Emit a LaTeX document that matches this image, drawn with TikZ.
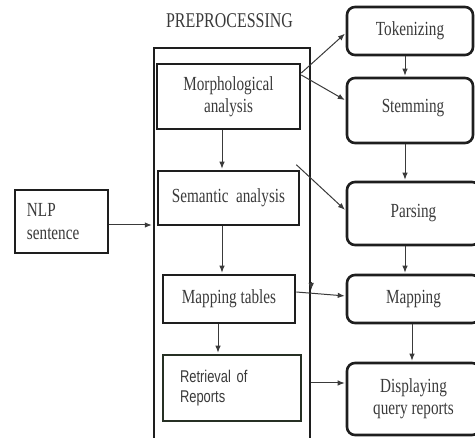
\documentclass[tikz,border=0pt]{standalone}
\usepackage{fontspec}
\setmainfont{Liberation Serif}[FakeStretch=0.76]
\newfontfamily\rsans{Liberation Sans}[FakeStretch=0.76]
\usetikzlibrary{arrows.meta,calc}
\definecolor{ink}{HTML}{1E1E1E}
\definecolor{txt}{HTML}{3A3A3A}
\definecolor{rbord}{HTML}{263024}
\tikzset{
 box/.style={draw=ink,line width=2.6pt,inner sep=0pt,align=center,text=txt,font=\fontsize{20}{22}\selectfont},
 rbox/.style={box,rounded corners=8pt},
 arr/.style={draw=txt,line width=1pt,-{Latex[length=7pt,width=5.5pt]},shorten >=1pt},
}
\begin{document}
\begin{tikzpicture}[x=1pt,y=-1pt]
\useasboundingbox (0,0) rectangle (475,438);
% outer preprocessing frame
\node[draw=ink,line width=2.4pt,minimum width=156pt,minimum height=422pt,inner sep=0pt] (pre) at (232,259) {};
\node[text=txt,font=\fontsize{21}{22}\selectfont] (title) at (229.5,21) {PREPROCESSING};
% left column
\node[box,minimum width=143pt,minimum height=65pt] (morph) at (228.5,96.5) {Morphological\\analysis};
\node[box,minimum width=141pt,minimum height=54pt] (sem) at (228.5,198) {\raisebox{4pt}{Semantic~~analysis}};
\node[box,minimum width=132pt,minimum height=48pt] (mtab) at (229,299) {Mapping tables};
\node[box,draw=rbord,minimum width=138pt,minimum height=66pt,inner xsep=17pt,text width=104pt,align=left,font=\rsans\fontsize{17}{20}\selectfont] (retr) at (232,388) {Retrieval of\\Reports};
\node[box,minimum width=93pt,minimum height=63pt,inner xsep=12pt,text width=69pt,align=left,font=\fontsize{20}{23}\selectfont] (nlp) at (61.5,221.5) {NLP\\sentence};
% right column
\node[rbox,minimum width=126pt,minimum height=48pt] (tok) at (410,31) {Tokenizing};
\node[rbox,minimum width=126pt,minimum height=65pt] (stem) at (410,110.5) {\raisebox{10pt}{\hspace*{6pt}Stemming}};
\node[rbox,minimum width=133pt,minimum height=63pt] (parse) at (413.5,213.5) {\raisebox{5pt}{Parsing}};
\node[rbox,minimum width=133pt,minimum height=48pt] (map) at (413.5,299) {Mapping};
\node[rbox,minimum width=133pt,minimum height=72pt] (disp) at (413.5,399) {Displaying\\query reports};
% connectors
\draw[arr] ([yshift=23.5pt]morph.east) -- ([yshift=-2pt]tok.west);
\draw[arr] ([yshift=21.5pt]morph.east) -- ([yshift=10pt]stem.west);
\draw[arr] ([xshift=-5pt]tok.south) -- ([xshift=-5pt]tok.south |- stem.north);
\draw[arr] ([xshift=-5pt]stem.south) -- ([xshift=-5pt]stem.south |- parse.north);
\draw[arr] ([shift={(-4pt,5pt)}]sem.north east) -- ([yshift=3pt]parse.west);
\draw[arr] ([xshift=-8.5pt]parse.south) -- ([xshift=-8.5pt]parse.south |- map.north);
\draw[arr] ([xshift=-1.5pt]map.south) -- ([xshift=-1.5pt]map.south |- disp.north);
\draw[arr] ([yshift=7pt]mtab.east) -- ([yshift=3pt]map.west);
\coordinate (dw) at ([yshift=16pt]disp.west);
\draw[arr] (dw -| pre.east) -- (dw);
\coordinate (nl) at ([yshift=-3.5pt]nlp.east);
\draw[arr] (nl) -- (nl -| pre.west);
\draw[arr] ([xshift=-6.5pt]morph.south) -- ([xshift=-6.5pt]morph.south |- sem.north);
\draw[arr] ([xshift=-6.5pt]sem.south) -- ([xshift=-6.5pt]sem.south |- mtab.north);
\draw[arr] ([xshift=-11pt]mtab.south) -- ([xshift=-11pt]mtab.south |- retr.north);
\coordinate (tp) at ([yshift=9pt]mtab.east -| pre.east);
\draw[arr,shorten >=0pt] ([yshift=8pt]tp) -- (tp);
\end{tikzpicture}
\end{document}
